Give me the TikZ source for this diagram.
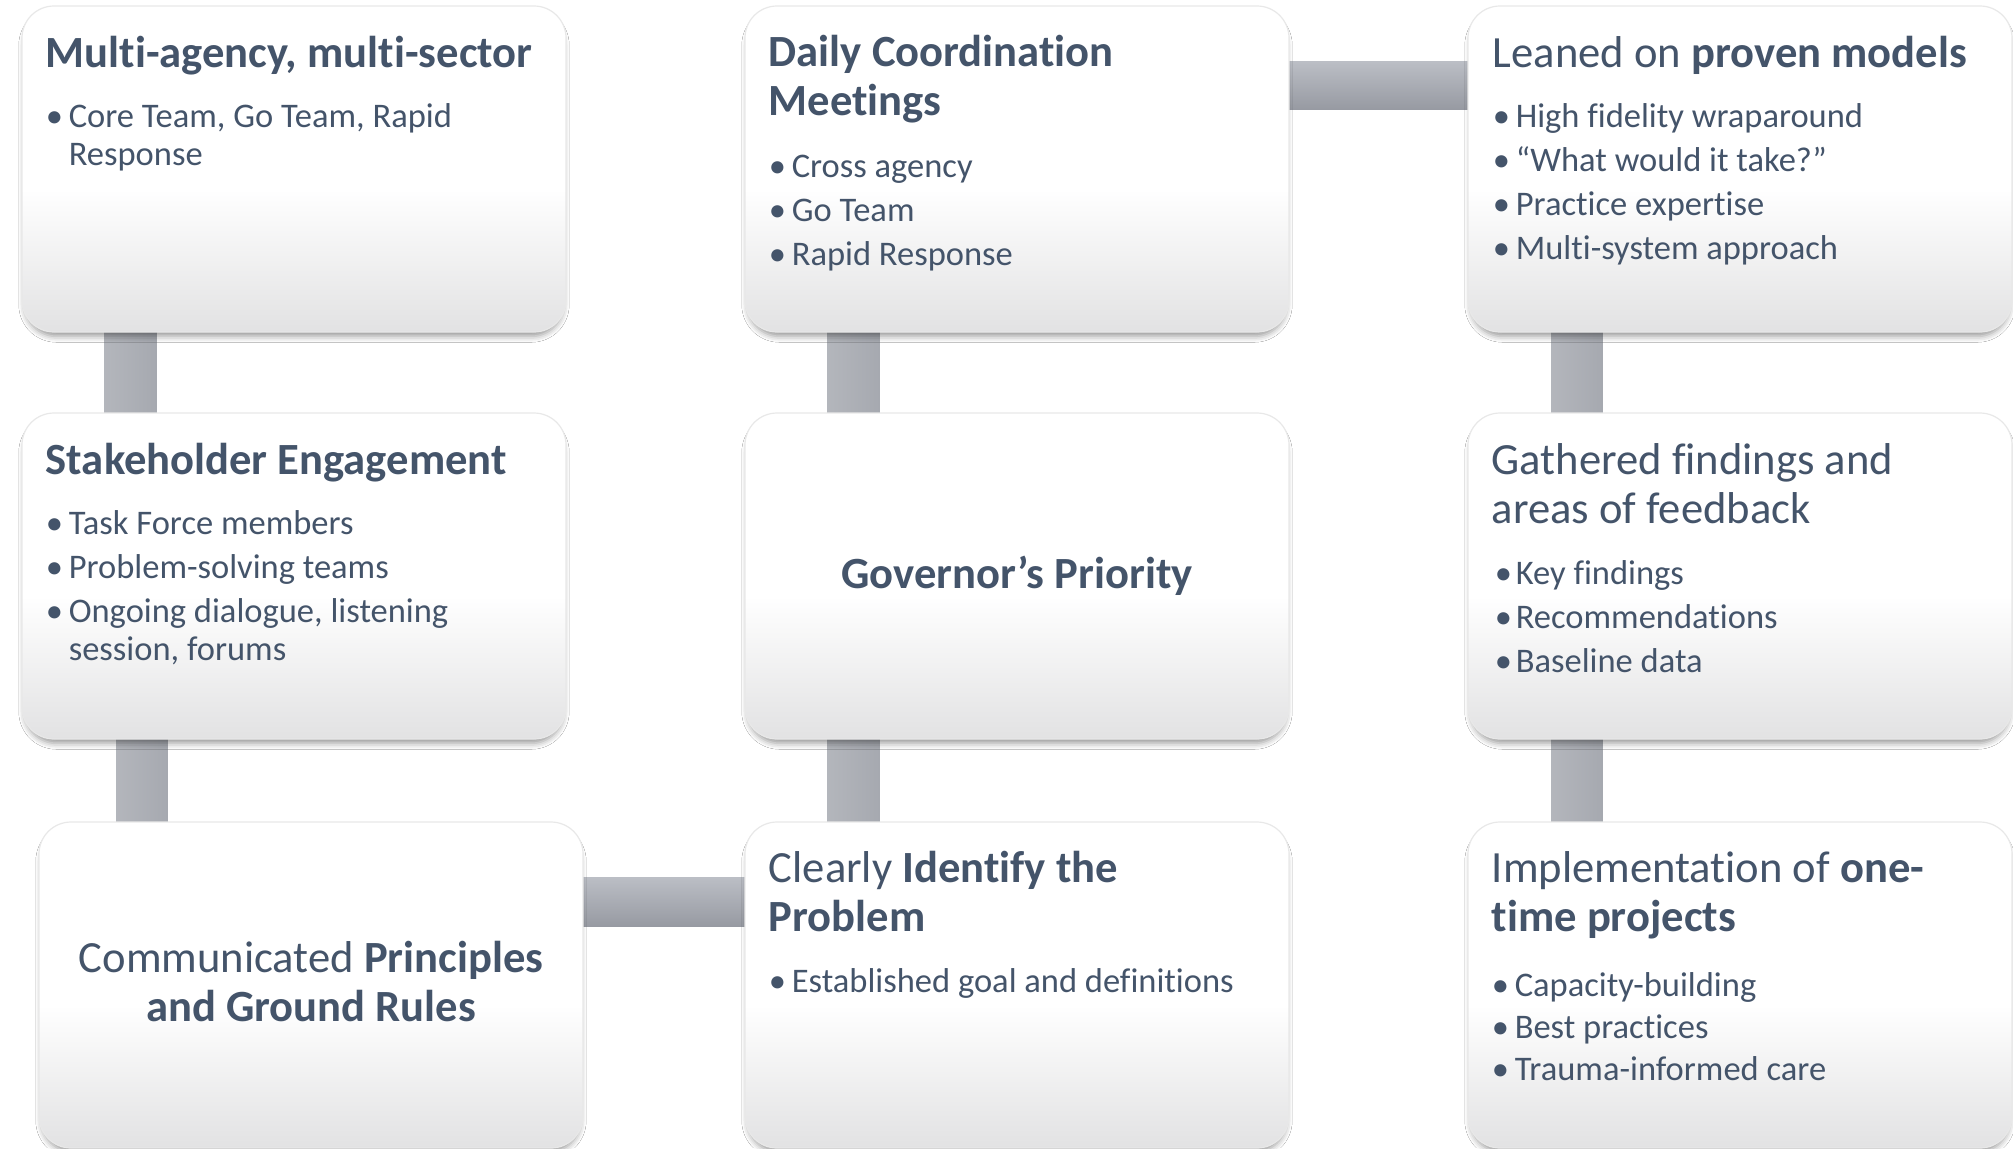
\documentclass[tikz,border=0pt]{standalone}
\usepackage{fontspec}
\setmainfont[RawFeature={-liga;-clig;-dlig}]{Carlito}
\usetikzlibrary{shadows.blur,backgrounds}
\definecolor{txt}{HTML}{44546A}
\definecolor{boxbot}{HTML}{E2E2E3}
\definecolor{barv}{HTML}{A6A9B0}
\definecolor{bartop}{HTML}{BBBEC5}
\definecolor{barbot}{HTML}{979AA2}
\pgfdeclareverticalshading{boxshade}{100bp}{color(0bp)=(boxbot); color(25bp)=(boxbot); color(47bp)=(white); color(100bp)=(white)}
\newlength\bulw
\setlength\bulw{11.5pt}
\newcommand\ttlbox[1]{\parbox[t]{265pt}{\raggedright\fontsize{22.3}{24.5}\selectfont #1}}
\newcommand\lstbox[1]{\parbox[t]{265pt}{\raggedright\fontsize{17.25}{19}\selectfont #1}}
\newcommand\bfirst[1]{\hangindent=\bulw\hangafter=1\noindent\makebox[\bulw][l]{\textbullet}#1\par}
\newcommand\bnext[1]{\vspace{3pt}\bfirst{#1}}
\begin{document}
\begin{tikzpicture}[x=0.5pt,y=-0.5pt,
  box/.style={rounded corners=16pt, minimum width=272pt, minimum height=163pt,
    inner sep=0pt, shading=boxshade, draw=black!9, line width=0.6pt,
    blur shadow={shadow xshift=0pt, shadow yshift=-3pt, shadow scale=0.99, shadow blur radius=3pt, shadow opacity=40}},
  tx/.style={inner sep=0pt, anchor=base west, text=txt},
  txc/.style={inner sep=0pt, anchor=center, align=center, text=txt, font=\fontsize{22.3}{24.5}\selectfont},
  vbar/.style={left color=barv!85!white, right color=barv},
  hbar/.style={top color=bartop, bottom color=barbot}]
\useasboundingbox (0,0) rectangle (2013,1148);
% boxes
\node[box] (A) at (294,169) {};
\node[box] (B) at (1017,169) {};
\node[box] (C) at (1740,169) {};
\node[box] (D) at (294,576) {};
\node[box] (E) at (1017,576) {};
\node[box] (F) at (1740,576) {};
\node[box] (G) at (311,985) {};
\node[box] (H) at (1017,985) {};
\node[box] (I) at (1740,985) {};
% texts
\node[tx] (At) at ([shift={(24,62)}]A.north west) {\ttlbox{\bfseries Multi-agency, multi-sector}};
\node[tx] (Al) at ([shift={(24,122)}]A.north west) {\lstbox{\bfirst{Core Team, Go Team, Rapid\hfil\break Response}}};
\node[tx] (Bt) at ([shift={(24,61)}]B.north west) {\ttlbox{\bfseries Daily Coordination\\Meetings}};
\node[tx] (Bl) at ([shift={(24,172)}]B.north west) {\lstbox{\bfirst{Cross agency}\bnext{Go Team}\bnext{Rapid Response}}};
\node[tx] (Ct) at ([shift={(25,62)}]C.north west) {\ttlbox{Leaned on \textbf{proven models}}};
\node[tx] (Cl) at ([shift={(25,122)}]C.north west) {\lstbox{\bfirst{High fidelity wraparound}\bnext{“What would it take?”}\bnext{Practice expertise}\bnext{Multi-system approach}}};
\node[tx] (Dt) at ([shift={(24,62)}]D.north west) {\ttlbox{\bfseries Stakeholder Engagement}};
\node[tx] (Dl) at ([shift={(24,122)}]D.north west) {\lstbox{\bfirst{Task Force members}\bnext{Problem-solving teams}\bnext{Ongoing dialogue, listening\hfil\break session, forums}}};
\node[txc] (Et) at (E.center) {\bfseries Governor’s Priority};
\node[tx] (Ft) at ([shift={(24,62)}]F.north west) {\ttlbox{Gathered findings and\\areas of feedback}};
\node[tx] (Fl) at ([shift={(27,172)}]F.north west) {\lstbox{\setlength\bulw{10.5pt}\bfirst{Key findings}\bnext{Recommendations}\bnext{Baseline data}}};
\node[txc] (Gt) at ([yshift=2]G.center) {Communicated \textbf{Principles}\\\textbf{and Ground Rules}};
\node[tx] (Ht) at ([shift={(24,61)}]H.north west) {\ttlbox{Clearly \textbf{Identify the}\\\textbf{Problem}}};
\node[tx] (Hl) at ([shift={(24,171)}]H.north west) {\lstbox{\bfirst{Established goal and definitions}}};
\node[tx] (It) at ([shift={(24,61)}]I.north west) {\ttlbox{Implementation of \textbf{one-}\\\textbf{time projects}}};
\node[tx] (Il) at ([shift={(24,175)}]I.north west) {\lstbox{\bfirst{Capacity-building}\vspace{2pt}\bfirst{Best practices}\vspace{2pt}\bfirst{Trauma-informed care}}};
% connectors
\begin{scope}[on background layer]
\fill[white] (0,0) rectangle (2013,1148);
\fill[vbar] ([shift={(83,-10)}]A.south west) rectangle ([shift={(135,10)}]D.north west);
\fill[vbar] ([shift={(95,-10)}]D.south west) rectangle ([shift={(129,10)}]G.north west);
\fill[hbar] ([shift={(-10,56)}]G.north east) rectangle ([shift={(10,105)}]H.north west);
\fill[vbar] ([shift={(83,-10)}]E.south west) rectangle ([shift={(135,10)}]H.north west);
\fill[vbar] ([shift={(83,-10)}]B.south west) rectangle ([shift={(135,10)}]E.north west);
\fill[hbar] ([shift={(-10,56)}]B.north east) rectangle ([shift={(10,104)}]C.north west);
\fill[vbar] ([shift={(84,-10)}]C.south west) rectangle ([shift={(135,10)}]F.north west);
\fill[vbar] ([shift={(84,-10)}]F.south west) rectangle ([shift={(135,10)}]I.north west);
\end{scope}
\end{tikzpicture}
\end{document}
